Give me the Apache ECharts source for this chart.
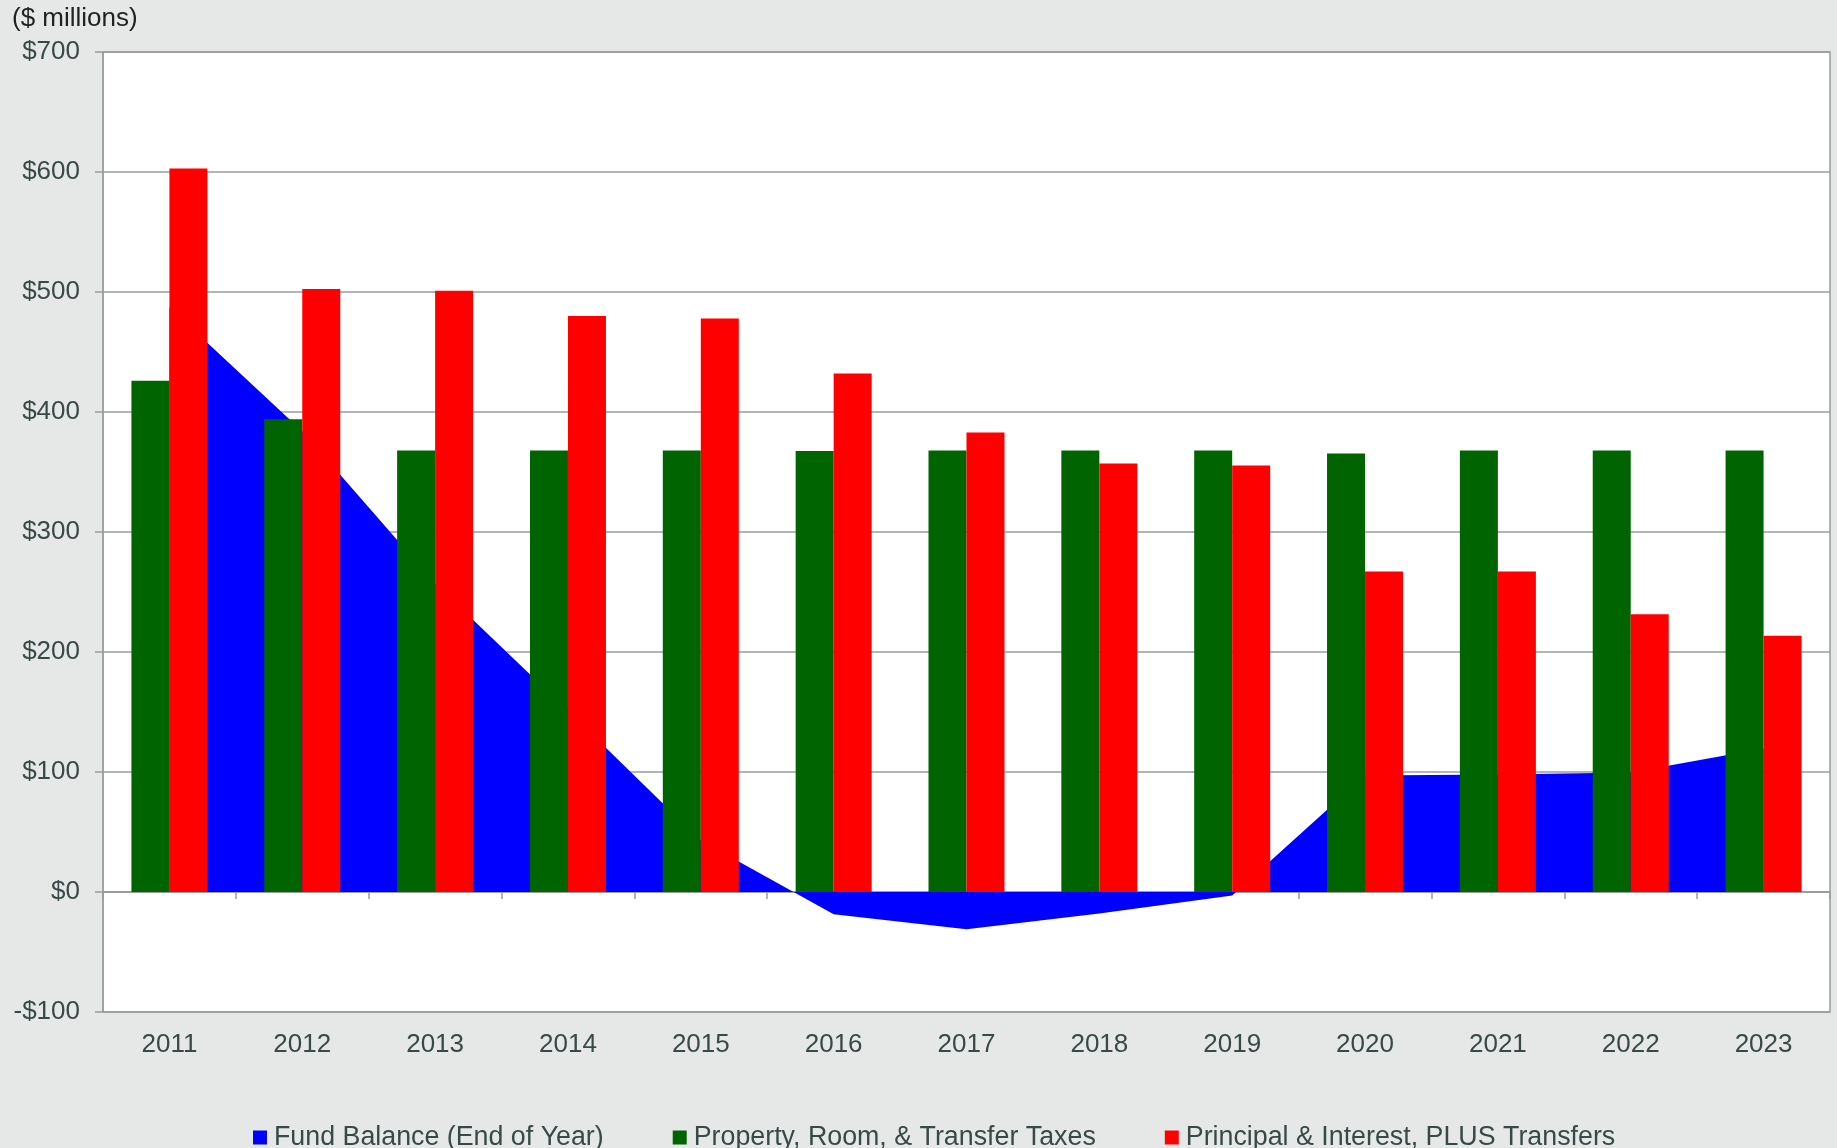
<!DOCTYPE html>
<html>
    <head>
        <meta charset="utf-8">
        <title>Fund Balance Chart</title>
        <script src="https://cdn.jsdelivr.net/npm/echarts@6/dist/echarts.min.js"></script>
        <style>
            html, body { margin: 0; padding: 0; background: #e6e8e7; }
        </style>
    </head>
    <body>
        <div id="main" style="width: 1837px;height:1148px;"></div>
        <script type="text/javascript">
            // data ($ millions)
            var years = ['2011', '2012', '2013', '2014', '2015', '2016', '2017', '2018', '2019', '2020', '2021', '2022', '2023'];
            var fundBalance = [487, 384, 257, 151, 43, -18.5, -31, -18, -3, 97, 98, 99.5, 119.5];
            var taxes = [426, 394, 368, 368, 368, 367.5, 368, 368, 368, 365.5, 368, 368, 368];
            var principalInterest = [603, 502.5, 501, 480, 478, 432, 383, 357, 355.5, 267, 267, 231.5, 213.5];
            var seriesNames = ['Fund Balance (End of Year)', 'Property, Room, & Transfer Taxes', 'Principal & Interest, PLUS Transfers'];

            var font = "'Liberation Sans', Arial, sans-serif";
            var textColor = '#384a48';
            var lineColor = '#999c9b';

            var myChart = echarts.init(document.getElementById('main'));

            var option = {
                backgroundColor: '#e6e8e7',
                animation: false,
                textStyle: { fontFamily: font },
                graphic: [{
                    type: 'text',
                    left: 12,
                    top: 6,
                    style: { text: '($ millions)', fill: '#222', font: '26px ' + font }
                }],
                legend: {
                    data: seriesNames,
                    left: 248,
                    top: 1119,
                    icon: 'rect',
                    itemWidth: 14,
                    itemHeight: 14,
                    itemGap: 69,
                    textStyle: { color: textColor, fontSize: 26.8, lineHeight: 27, fontFamily: font, padding: [0, 0, 0, 2] }
                },
                grid: {
                    left: 103,
                    right: 7,
                    top: 52,
                    bottom: 136,
                    outerBoundsMode: 'none',
                    containLabel: false,
                    show: true,
                    backgroundColor: '#ffffff',
                    borderColor: lineColor,
                    borderWidth: 1.5
                },
                xAxis: [
                    {
                        // axis line and ticks sitting on $0
                        type: 'category',
                        data: years,
                        position: 'bottom',
                        axisLine: { onZero: true, lineStyle: { color: lineColor, width: 2 } },
                        axisTick: { show: true, length: 7, lineStyle: { color: lineColor, width: 1.5 } },
                        axisLabel: { show: false }
                    },
                    {
                        // year labels under the plot
                        type: 'category',
                        data: years,
                        position: 'bottom',
                        axisLine: { show: false, onZero: false },
                        axisTick: { show: false },
                        axisLabel: { interval: 0, margin: 20, color: textColor, fontSize: 26, fontFamily: font }
                    }
                ],
                yAxis: {
                    type: 'value',
                    min: -100,
                    max: 700,
                    interval: 100,
                    axisLine: { show: true, lineStyle: { color: lineColor, width: 1.5 } },
                    axisTick: { show: true, length: 8, lineStyle: { color: lineColor, width: 1.5 } },
                    splitLine: { lineStyle: { color: lineColor, width: 1.5 } },
                    axisLabel: {
                        margin: 23,
                        color: textColor,
                        fontSize: 26,
                        fontFamily: font,
                        formatter: function (v) { return v < 0 ? '-$' + (-v) : '$' + v; }
                    }
                },
                series: [
                    {
                        name: seriesNames[0],
                        type: 'line',
                        data: fundBalance,
                        z: 1,
                        symbol: 'none',
                        lineStyle: { width: 0, color: '#0000ff' },
                        itemStyle: { color: '#0000ff' },
                        areaStyle: { color: '#0000ff', opacity: 1 }
                    },
                    {
                        name: seriesNames[1],
                        type: 'bar',
                        data: taxes,
                        z: 3,
                        barWidth: 38,
                        barGap: '0%',
                        itemStyle: { color: '#006400' }
                    },
                    {
                        name: seriesNames[2],
                        type: 'bar',
                        data: principalInterest,
                        z: 3,
                        barWidth: 38,
                        barGap: '0%',
                        itemStyle: { color: '#ff0000' }
                    }
                ]
            };

            myChart.setOption(option);
        </script>
    </body>
</html>
